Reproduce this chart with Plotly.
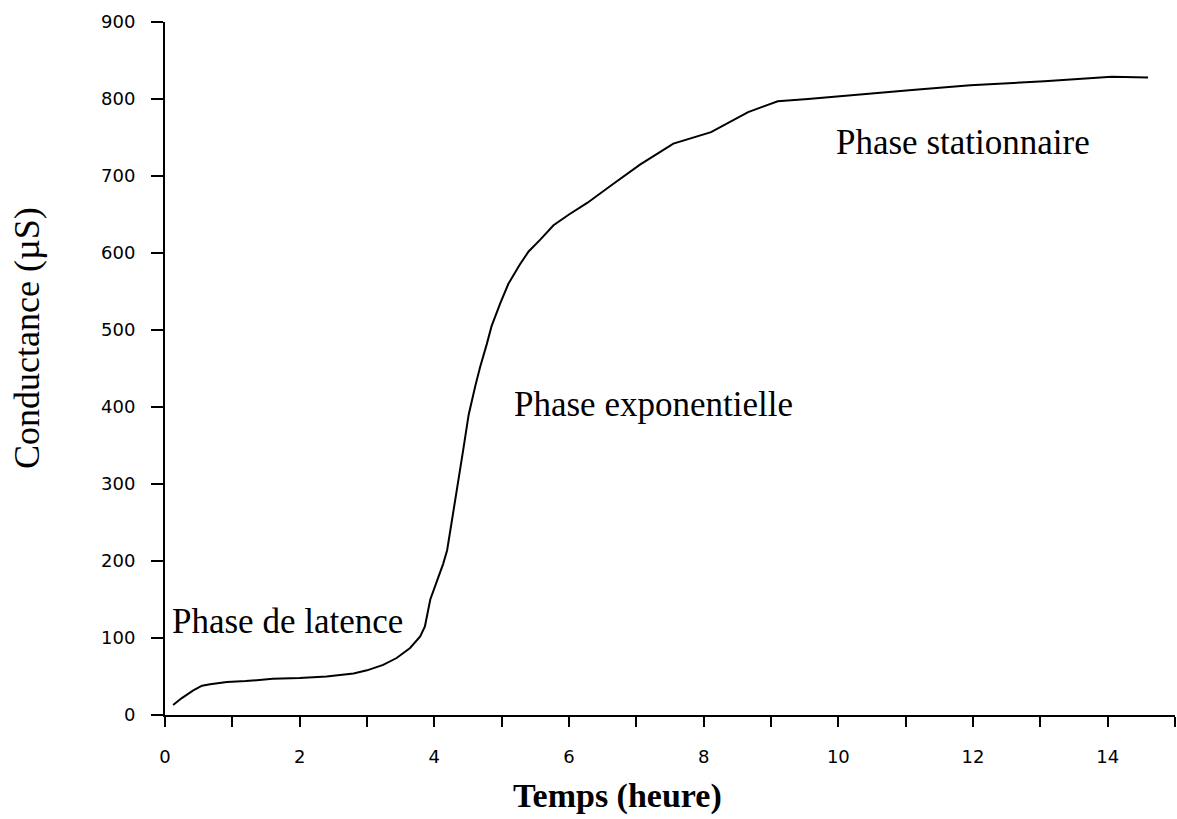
import plotly.graph_objects as go

# Data
temps = [0.12, 0.25, 0.42, 0.55, 0.67, 0.92, 1.2, 1.6, 2.0, 2.4, 2.8, 3.0, 3.24, 3.44,
         3.64, 3.79, 3.86, 3.94, 4.06, 4.13, 4.19, 4.26, 4.33, 4.43, 4.51, 4.61, 4.68, 4.78,
         4.85, 4.98, 5.1, 5.27, 5.4, 5.57, 5.77, 6.0, 6.27, 6.66, 7.06, 7.55, 8.11,
         8.66, 9.1, 9.55, 10.3, 11.14, 11.96, 13.06, 14.06, 14.6]
conductance = [13, 22, 32, 38, 40, 43, 44, 47, 48, 50, 54, 58, 65, 74,
               87, 102, 115, 150, 179, 196, 214, 250, 290, 345, 390, 428, 452, 482,
               505, 535, 560, 585, 602, 617, 636, 650, 665, 690, 715, 742, 757,
               783, 797, 800, 806, 812, 818, 823, 829, 828]

x_tickvals = list(range(0, 16))
x_ticktext = [str(v) if v % 2 == 0 and v < 15 else "" for v in x_tickvals]
y_tickvals = list(range(0, 1000, 100))
y_ticktext = [str(v) for v in y_tickvals]

phase_labels = ["Phase de latence", "Phase exponentielle", "Phase stationnaire"]
phase_x = [0.07, 5.16, 9.93]
phase_y = [121, 403, 743]

fig = go.Figure()
fig.add_trace(go.Scatter(x=temps, y=conductance, mode="lines",
                         line=dict(color="black", width=2), showlegend=False,
                         hoverinfo="skip"))

serif = "Liberation Serif, Times New Roman, serif"
tickfont = dict(family="DejaVu Sans", size=18, color="black")

for t, xv, yv in zip(phase_labels, phase_x, phase_y):
    fig.add_annotation(x=xv, y=yv, text=t, showarrow=False, xanchor="left",
                       yanchor="middle", font=dict(family=serif, size=35, color="black"))

fig.add_annotation(xref="paper", yref="paper", x=(617 - 165) / 1010, y=-(796 - 715) / 693,
                   text="<b>Temps (heure)</b>", showarrow=False, xanchor="center",
                   yanchor="middle", font=dict(family=serif, size=34, color="black"))
fig.add_annotation(xref="paper", yref="paper", x=(27 - 165) / 1010, y=(715 - 338) / 693,
                   text="Conductance (µS)", textangle=-90, showarrow=False,
                   xanchor="center", yanchor="middle",
                   font=dict(family=serif, size=36, color="black"))

fig.update_xaxes(range=[0, 15], tickvals=x_tickvals, ticktext=x_ticktext,
                 ticks="outside", ticklen=10, tickwidth=2, tickcolor="black",
                 showline=True, linecolor="black", linewidth=2, showgrid=False,
                 zeroline=False, ticklabelstandoff=14)
fig.update_yaxes(range=[0, 900], tickvals=y_tickvals, ticktext=y_ticktext,
                 ticks="outside", ticklen=12, tickwidth=2, tickcolor="black",
                 showline=True, linecolor="black", linewidth=2, showgrid=False,
                 zeroline=False, ticklabelstandoff=12)

fig.update_layout(width=1177, height=819, margin=dict(l=165, r=2, t=22, b=104),
                  plot_bgcolor="white", paper_bgcolor="white",
                  xaxis_tickfont=tickfont, yaxis_tickfont=tickfont)

fig.write_html("out.html")
